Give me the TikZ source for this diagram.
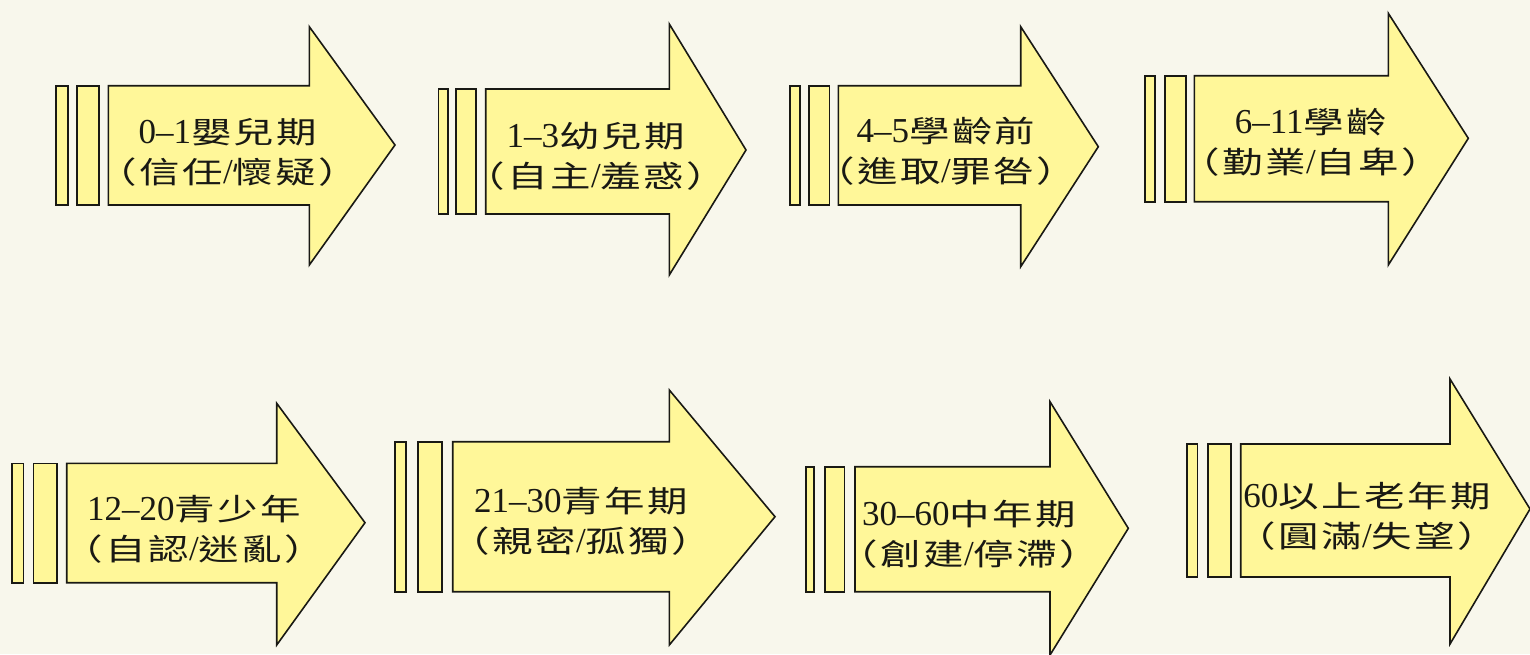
\documentclass[tikz,border=0pt]{standalone}
\usepackage{fontspec}
\setmainfont[FakeStretch=1.35,LetterSpace=8]{Noto Sans CJK TC}
\newfontfamily\numfont{Liberation Serif}
\newcommand\nm[1]{{\numfont\fontsize{35}{40}\selectfont #1}}
\definecolor{paper}{RGB}{248,247,236}
\definecolor{arrowfill}{RGB}{255,247,153}
\definecolor{inkcol}{RGB}{25,25,20}
\tikzset{
  shapeline/.style={draw=inkcol, fill=arrowfill, line width=1.6pt, line join=miter},
  lbl/.style={align=center, text=inkcol, inner sep=0pt, font=\fontsize{30}{40}\selectfont}
}
\begin{document}
\begin{tikzpicture}[x=1pt,y=-1pt]
\fill[paper] (0,0) rectangle (1530,654);
\useasboundingbox (0,0) rectangle (1530,654);
% ---- Arrow 1
\draw[shapeline] (56,85.7) rectangle (67.7,205);
\draw[shapeline] (76.7,85.7) rectangle (99,205);
\draw[shapeline] (108.3,85.7) -- (309.3,85.7) -- (309.3,26.7) -- (395,145) -- (309.3,265) -- (309.3,205) -- (108.3,205) -- cycle;
\node[lbl] (t1) at (228,152.5) {\nm{0–1}嬰兒期\\（信任\nm{/}懷疑）};
% ---- Arrow 2
\draw[shapeline] (438.3,89) rectangle (447.7,214);
\draw[shapeline] (456,89) rectangle (476,214);
\draw[shapeline] (485.7,89) -- (669.3,89) -- (669.3,24) -- (746,150) -- (669.3,275) -- (669.3,214) -- (485.7,214) -- cycle;
\node[lbl] (t2) at (596,156) {\nm{1–3}幼兒期\\（自主\nm{/}羞惑）};
% ---- Arrow 3
\draw[shapeline] (790,85.7) rectangle (800,205);
\draw[shapeline] (809,85.7) rectangle (829.3,205);
\draw[shapeline] (838.3,85.7) -- (1020.7,85.7) -- (1020.7,26.7) -- (1098.3,146.7) -- (1020.7,266.7) -- (1020.7,205) -- (838.3,205) -- cycle;
\node[lbl] (t3) at (946,151) {\nm{4–5}學齡前\\（進取\nm{/}罪咎）};
% ---- Arrow 4
\draw[shapeline] (1145,75.7) rectangle (1155,201.7);
\draw[shapeline] (1165,75.7) rectangle (1185.7,201.7);
\draw[shapeline] (1194.3,75.7) -- (1388.3,75.7) -- (1388.3,13.3) -- (1468.3,138.3) -- (1388.3,265) -- (1388.3,201.7) -- (1194.3,201.7) -- cycle;
\node[lbl] (t4) at (1311,142.5) {\nm{6–11}學齡\\（勤業\nm{/}自卑）};
% ---- Arrow 5
\draw[shapeline] (11.7,463.3) rectangle (23.3,582.7);
\draw[shapeline] (33.3,463.3) rectangle (56.7,582.7);
\draw[shapeline] (66.7,463.3) -- (276.7,463.3) -- (276.7,403.3) -- (365,522.7) -- (276.7,645) -- (276.7,582.7) -- (66.7,582.7) -- cycle;
\node[lbl] (t5) at (194,529) {\nm{12–20}青少年\\（自認\nm{/}迷亂）};
% ---- Arrow 6
\draw[shapeline] (395,441.7) rectangle (406,591.7);
\draw[shapeline] (417.7,441.7) rectangle (441.7,591.7);
\draw[shapeline] (452.7,441.7) -- (669.3,441.7) -- (669.3,390) -- (775,516.7) -- (669.3,645) -- (669.3,591.7) -- (452.7,591.7) -- cycle;
\node[lbl] (t6) at (581,521) {\nm{21–30}青年期\\（親密\nm{/}孤獨）};
% ---- Arrow 7
\draw[shapeline] (806,466.7) rectangle (814,591.7);
\draw[shapeline] (825,466.7) rectangle (844.3,591.7);
\draw[shapeline] (855,466.7) -- (1050,466.7) -- (1050,401.7) -- (1128.3,528.3) -- (1050,655) -- (1050,591.7) -- (855,591.7) -- cycle;
\node[lbl] (t7) at (969,534) {\nm{30–60}中年期\\（創建\nm{/}停滯）};
% ---- Arrow 8
\draw[shapeline] (1186.7,444) rectangle (1197.3,577);
\draw[shapeline] (1207.7,444) rectangle (1230.7,577);
\draw[shapeline] (1240.7,444) -- (1450,444) -- (1450,379) -- (1530,509) -- (1450,644) -- (1450,577) -- (1240.7,577) -- cycle;
\node[lbl] (t8) at (1367,516.7) {\nm{60}以上老年期\\（圓滿\nm{/}失望）};
\end{tikzpicture}
\end{document}
